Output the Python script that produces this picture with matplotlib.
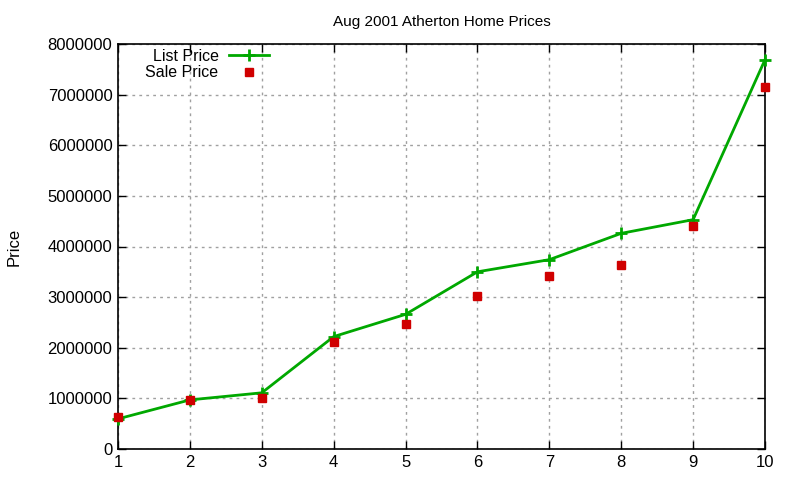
import matplotlib
matplotlib.use("Agg")
import matplotlib.pyplot as plt
from matplotlib.ticker import FuncFormatter


house = [1, 2, 3, 4, 5, 6, 7, 8, 9, 10]
list_price = [595000, 970000, 1110000, 2220000, 2660000, 3500000, 3740000, 4260000, 4530000, 7690000]
sale_price = [625000, 960000, 1000000, 2120000, 2460000, 3030000, 3410000, 3640000, 4410000, 7160000]
y_ticks = [0, 1000000, 2000000, 3000000, 4000000, 5000000, 6000000, 7000000, 8000000]


def main():
    plt.rcParams["font.family"] = ["Liberation Sans", "DejaVu Sans"]

    fig = plt.figure(figsize=(8, 4.8), dpi=100)
    ax = fig.add_axes([118 / 800, 1 - 449 / 480, (765 - 118) / 800, (449 - 44) / 480])

    ax.plot(house, list_price, color="#00a800", lw=2, marker="+", ms=8, mew=2,
            label="List Price", clip_on=False, zorder=3)
    ax.plot(house, sale_price, color="#d00000", ls="none", marker="s", ms=6,
            label="Sale Price", clip_on=False, zorder=4)

    ax.set_xlim(1, 10)
    ax.set_ylim(0, 8000000)
    ax.set_xticks(house)
    ax.set_yticks(y_ticks)
    ax.yaxis.set_major_formatter(FuncFormatter(lambda v, p: f"{int(v)}"))

    ax.grid(True, color="#a0a0a0", ls=(0, (2, 3)), lw=1)
    ax.tick_params(direction="in", top=True, right=True, length=6, width=1,
                   labelsize=12, pad=4)
    for sp in ax.spines.values():
        sp.set_linewidth(1.2)

    ax.set_title("Aug 2001 Atherton Home Prices", fontsize=11, pad=13)
    ax.set_ylabel("Price", fontsize=12, labelpad=19)

    leg = ax.legend(loc="upper left", bbox_to_anchor=(0.03, 1.008), frameon=False,
                    markerfirst=False, fontsize=11.5, handlelength=2.5,
                    handletextpad=0.65, labelspacing=0.1, borderaxespad=0.1)
    for t in leg.get_texts():
        t.set_ha("right")

    fig.savefig("out.png", dpi=100)
    plt.close(fig)


if __name__ == "__main__":
    main()
